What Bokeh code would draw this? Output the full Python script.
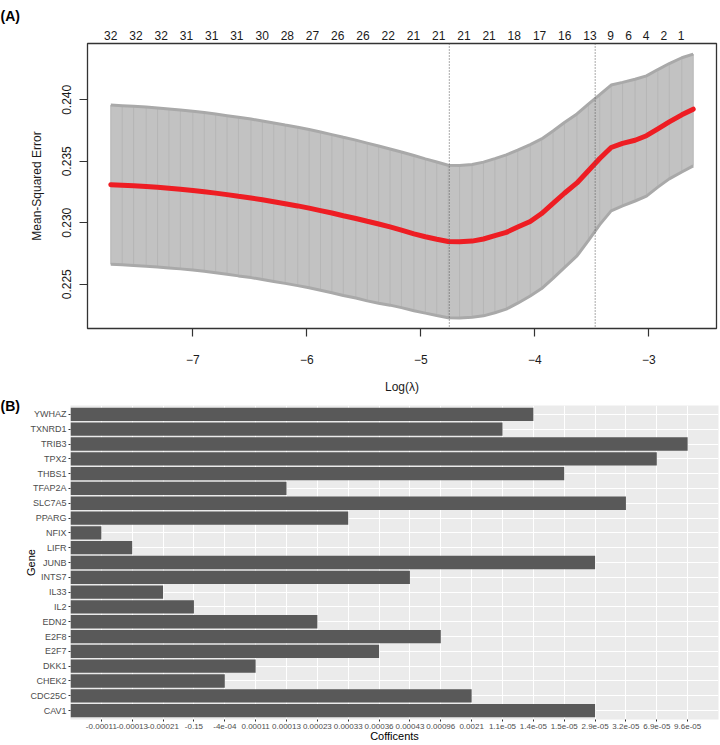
from bokeh.plotting import figure
from bokeh.models import (LinearAxis, FixedTicker, Span, Title, Range1d, FactorRange,
                          ColumnDataSource, NumeralTickFormatter)
from bokeh.layouts import column
from bokeh.embed import file_html
from bokeh.resources import INLINE

FONT = "Liberation Sans"

# ---------------- Panel A data (cv.glmnet curve) ----------------
log_lambda = [-7.72, -7.62, -7.52, -7.41, -7.31, -7.21, -7.11, -7.00, -6.90, -6.80,
              -6.70, -6.60, -6.49, -6.39, -6.29, -6.19, -6.08, -5.98, -5.88, -5.78,
              -5.68, -5.57, -5.47, -5.37, -5.27, -5.17, -5.06, -4.96, -4.86, -4.76,
              -4.66, -4.55, -4.45, -4.35, -4.25, -4.15, -4.04, -3.94, -3.84, -3.74,
              -3.63, -3.53, -3.43, -3.33, -3.23, -3.12, -3.02, -2.92, -2.82, -2.71, -2.61]
cv_mean = [0.23310, 0.23306, 0.23301, 0.23295, 0.23289, 0.23281, 0.23273, 0.23263, 0.23253, 0.23241,
           0.23229, 0.23216, 0.23202, 0.23187, 0.23171, 0.23155, 0.23137, 0.23119, 0.23099, 0.23079,
           0.23057, 0.23035, 0.23012, 0.22990, 0.22966, 0.22940, 0.22910, 0.22886, 0.22866, 0.22848,
           0.22845, 0.22851, 0.22868, 0.22895, 0.22922, 0.22965, 0.23010, 0.23075, 0.23157, 0.23240,
           0.23324, 0.23423, 0.23522, 0.23612, 0.23646, 0.23671, 0.23708, 0.23764, 0.23820, 0.23878, 0.23924]
cv_up = [0.23957, 0.23952, 0.23947, 0.23941, 0.23934, 0.23926, 0.23917, 0.23907, 0.23896, 0.23884,
         0.23871, 0.23858, 0.23843, 0.23828, 0.23812, 0.23795, 0.23777, 0.23758, 0.23738, 0.23717,
         0.23695, 0.23672, 0.23648, 0.23624, 0.23600, 0.23575, 0.23547, 0.23520, 0.23494, 0.23468,
         0.23466, 0.23474, 0.23493, 0.23522, 0.23552, 0.23590, 0.23636, 0.23682, 0.23746, 0.23815,
         0.23885, 0.23965, 0.24042, 0.24120, 0.24142, 0.24167, 0.24195, 0.24246, 0.24295, 0.24342, 0.24372]
cv_lo = [0.22662, 0.22658, 0.22653, 0.22647, 0.22641, 0.22633, 0.22625, 0.22615, 0.22605, 0.22593,
         0.22581, 0.22568, 0.22554, 0.22539, 0.22523, 0.22507, 0.22489, 0.22471, 0.22451, 0.22431,
         0.22409, 0.22388, 0.22365, 0.22346, 0.22330, 0.22310, 0.22285, 0.22265, 0.22246, 0.22228,
         0.22226, 0.22231, 0.22243, 0.22268, 0.22298, 0.22346, 0.22405, 0.22465, 0.22548, 0.22635,
         0.22730, 0.22855, 0.22985, 0.23097, 0.23137, 0.23177, 0.23217, 0.23290, 0.23357, 0.23413, 0.23463]
log_lambda_min = -4.75
log_lambda_1se = -3.47

lambda_ticks = [-7, -6, -5, -4, -3]
lambda_tick_labels = ["\u22127", "\u22126", "\u22125", "\u22124", "\u22123"]
mse_ticks = [0.225, 0.230, 0.235, 0.240]

nz_pos = [-7.720, -7.499, -7.277, -7.056, -6.835, -6.614, -6.392, -6.171, -5.950, -5.729,
          -5.507, -5.286, -5.065, -4.843, -4.622, -4.401, -4.180, -3.958, -3.737, -3.516,
          -3.334, -3.176, -3.023, -2.867, -2.716]
nz_labels = ["32", "32", "32", "31", "31", "31", "30", "28", "27", "26", "26", "22", "21",
             "21", "21", "21", "18", "17", "16", "13", "9", "6", "4", "2", "1"]

# ---------------- Panel B data (coefficients) ----------------
genes = ["YWHAZ", "TXNRD1", "TRIB3", "TPX2", "THBS1", "TFAP2A", "SLC7A5", "PPARG", "NFIX", "LIFR",
         "JUNB", "INTS7", "IL33", "IL2", "EDN2", "E2F8", "E2F7", "DKK1", "CHEK2", "CDC25C", "CAV1"]
coef_levels = ["-0.00011", "-0.00013", "-0.00021", "-0.15", "-4e-04", "0.00011", "0.00013",
               "0.00023", "0.00033", "0.00036", "0.00043", "0.00096", "0.0021", "1.1e-05",
               "1.4e-05", "1.5e-05", "2.9e-05", "3.2e-05", "6.9e-05", "9.6e-05"]
gene_coef = ["1.4e-05", "1.1e-05", "9.6e-05", "6.9e-05", "1.5e-05", "0.00013", "3.2e-05", "0.00033",
             "-0.00011", "-0.00013", "2.9e-05", "0.00043", "-0.00021", "-0.15", "0.00023", "0.00096",
             "0.00036", "0.00011", "-4e-04", "0.0021", "2.9e-05"]

W = 719

# ================= Panel A =================
x_pad = 0.04 * (max(log_lambda) - min(log_lambda))
y_min, y_max = min(cv_lo), max(cv_up)
y_pad = 0.04 * (y_max - y_min)

pA = figure(width=W, height=396, output_backend="svg", toolbar_location=None,
            x_range=Range1d(min(log_lambda) - x_pad, max(log_lambda) + x_pad),
            y_range=Range1d(y_min - y_pad, y_max + y_pad),
            min_border_left=87, min_border_right=3, min_border_top=43, min_border_bottom=67,
            background_fill_color="white", border_fill_color="white")
pA.title = Title(text="(A)", align="left", offset=-87, standoff=7, vertical_align="bottom",
                 text_font=FONT, text_font_size="14px", text_font_style="bold", text_color="black")
pA.grid.visible = False
pA.outline_line_color = "#333333"
pA.outline_line_width = 1.3

srcA = ColumnDataSource(dict(x=log_lambda, m=cv_mean, up=cv_up, lo=cv_lo))
pA.varea(x="x", y1="lo", y2="up", source=srcA, fill_color="#C2C2C2")
pA.segment(x0="x", y0="lo", x1="x", y1="up", source=srcA, line_color="#B6B6B6", line_width=1)
pA.line("x", "up", source=srcA, line_color="#A9A9A9", line_width=3)
pA.line("x", "lo", source=srcA, line_color="#A9A9A9", line_width=3)
pA.line("x", "m", source=srcA, line_color="#EE1D23", line_width=5, line_cap="round")
for loc in (log_lambda_min, log_lambda_1se):
    pA.add_layout(Span(location=loc, dimension="height", line_color="#555555",
                       line_dash="1 2", line_width=1))

xa = pA.xaxis[0]
xa.ticker = FixedTicker(ticks=lambda_ticks)
xa.major_label_overrides = dict(zip(lambda_ticks, lambda_tick_labels))
xa.axis_label = "Log(\u03bb)"
ya = pA.yaxis[0]
ya.ticker = FixedTicker(ticks=mse_ticks)
ya.formatter = NumeralTickFormatter(format="0.000")
ya.axis_label = "Mean-Squared Error"
ya.major_label_orientation = "vertical"
for ax in (xa, ya):
    ax.axis_line_color = None
    ax.major_tick_line_color = "#333333"
    ax.major_tick_line_width = 1.2
    ax.major_tick_out = 8
    ax.major_tick_in = 0
    ax.minor_tick_line_color = None
    ax.major_label_text_font = FONT
    ax.major_label_text_font_size = "12px"
    ax.major_label_text_color = "#1a1a1a"
    ax.axis_label_text_font = FONT
    ax.axis_label_text_font_size = "12px"
    ax.axis_label_text_font_style = "normal"
    ax.axis_label_text_color = "#1a1a1a"
xa.major_label_standoff = 18
xa.axis_label_standoff = 13
ya.major_label_standoff = 8
ya.axis_label_standoff = 16

top = LinearAxis(ticker=FixedTicker(ticks=nz_pos),
                 major_label_overrides=dict(zip(nz_pos, nz_labels)))
top.axis_line_color = None
top.major_tick_line_color = None
top.major_tick_out = 0
top.major_tick_in = 0
top.minor_tick_line_color = None
top.major_label_standoff = 4
top.major_label_text_font = FONT
top.major_label_text_font_size = "12px"
top.major_label_text_color = "#1a1a1a"
pA.add_layout(top, "above")

# ================= Panel B =================
srcB = ColumnDataSource(dict(gene=genes, coef=gene_coef))
pB = figure(width=W, height=348, output_backend="svg", toolbar_location=None,
            x_range=FactorRange(factors=coef_levels, range_padding=0.5, range_padding_units="absolute"),
            y_range=FactorRange(factors=genes[::-1], range_padding=0.1, range_padding_units="absolute"),
            min_border_left=70, min_border_right=1, min_border_top=9, min_border_bottom=24,
            background_fill_color="#EBEBEB", border_fill_color="white")
pB.title = Title(text="(B)", align="left", offset=-70, standoff=-16, vertical_align="bottom",
                 text_font=FONT, text_font_size="14px", text_font_style="bold", text_color="black")
pB.outline_line_color = None
pB.xgrid.grid_line_color = "white"
pB.ygrid.grid_line_color = "white"
pB.xgrid.grid_line_width = 1
pB.ygrid.grid_line_width = 1
pB.hbar(y="gene", left=-0.5, right="coef", height=0.9, source=srcB,
        fill_color="#595959", line_color=None)

for ax in (pB.xaxis[0], pB.yaxis[0]):
    ax.axis_line_color = None
    ax.major_tick_line_color = "#333333"
    ax.major_tick_out = 2
    ax.major_tick_in = 0
    ax.minor_tick_line_color = None
    ax.major_label_standoff = 2
    ax.major_label_text_font = FONT
    ax.major_label_text_color = "#4D4D4D"
    ax.axis_label_text_font = FONT
    ax.axis_label_text_font_size = "11px"
    ax.axis_label_text_font_style = "normal"
    ax.axis_label_text_color = "black"
pB.xaxis[0].major_label_text_font_size = "8px"
pB.yaxis[0].major_label_text_font_size = "9px"
pB.xaxis[0].axis_label = "Cofficents"
pB.yaxis[0].axis_label = "Gene"
pB.xaxis[0].axis_label_standoff = -2
pB.yaxis[0].axis_label_standoff = -10

for p in (pA, pB):
    try:
        p.frame_align = False
    except AttributeError:
        pass

layout = column(pA, pB)
open("out.html", "w").write(file_html(layout, INLINE, title="cv glmnet"))
